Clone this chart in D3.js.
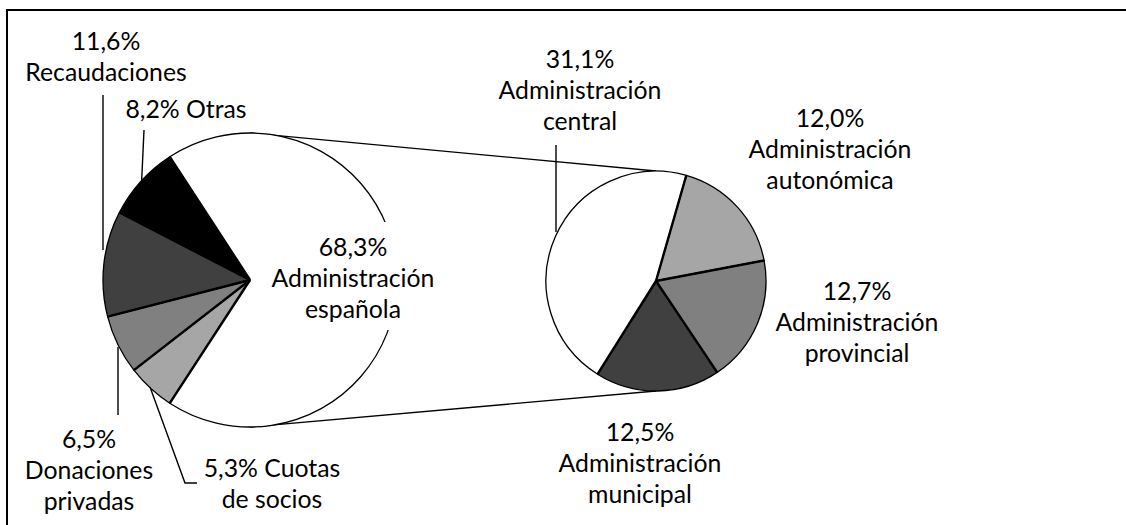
<!DOCTYPE html>
<html>
<head>
<meta charset="utf-8">
<script src="https://cdn.jsdelivr.net/npm/d3@7"></script>
<style>
  body { margin: 0; background: #fff; }
  text { font-family: Lato, "Open Sans", sans-serif; fill: #000; }
</style>
</head>
<body>
<svg id="chart" width="1126" height="525"></svg>
<script>
// main pie (funding sources), secondary pie splits "Administración española"
const mainNames = ["Cuotas de socios", "Donaciones privadas", "Recaudaciones", "Otras", "Administración española"];
const mainValues = [5.3, 6.5, 11.6, 8.2, 68.3];
const mainColors = ["#a6a6a6", "#808080", "#404040", "#000000", "#ffffff"];

const subNames = ["Administración autonómica", "Administración provincial", "Administración municipal", "Administración central"];
const subValues = [12.0, 12.7, 12.5, 31.1];
const subColors = ["#a6a6a6", "#808080", "#404040", "#ffffff"];

// label layout: block centre x, first baseline y, words per line (pct counts as a word)
const mainLabelLayout = [
  { x: 272, y: 477, breaks: [2, 2], leader: [[150, 387], [185, 483], [197, 483]] },
  { x: 89, y: 448, breaks: [1, 1, 1], leader: [[118, 347], [118, 415]] },
  { x: 106, y: 50, breaks: [1, 1], leader: [[103, 95], [103, 250]] },
  { x: 186, y: 118, breaks: [2], leader: [[144, 130], [141.7, 180]] },
  { x: 353, y: 256, breaks: [1, 1, 1], bg: [268, 222, 169, 108] }
];
const subLabelLayout = [
  { x: 830, y: 127, breaks: [1, 1, 1] },
  { x: 857, y: 300, breaks: [1, 1, 1] },
  { x: 640, y: 441, breaks: [1, 1, 1] },
  { x: 580, y: 68, breaks: [1, 1, 1], leader: [[556, 145], [556, 232]] }
];

const svg = d3.select("#chart");
const lineH = 31;

// pick a font size so label widths are close to the original
const probe = svg.append("text").style("font-size", "24px").text("Administración");
const fontSize = 24 * 163 / probe.node().getComputedTextLength();
probe.remove();

// frame (right and bottom edges run off the picture)
svg.append("rect")
  .attr("x", 7).attr("y", 10)
  .attr("width", 1140).attr("height", 540)
  .attr("fill", "none").attr("stroke", "#000").attr("stroke-width", 2);

const main = { cx: 250, cy: 280, r: 147 };
const sub = { cx: 656, cy: 281, r: 110 };

// connector lines between the two pies
const connectors = svg.append("g").attr("stroke", "#000").attr("stroke-width", 1.4);
connectors.append("line")
  .attr("x1", main.cx).attr("y1", main.cy - main.r)
  .attr("x2", sub.cx).attr("y2", sub.cy - sub.r);
connectors.append("line")
  .attr("x1", main.cx).attr("y1", main.cy + main.r)
  .attr("x2", sub.cx).attr("y2", sub.cy + sub.r);

const fmt = v => d3.format(".1f")(v).replace(".", ",");

function drawPie(geo, values, colors, start) {
  const pie = d3.pie().sort(null).value(d => d)
    .startAngle(start).endAngle(start + 2 * Math.PI);
  const arcs = pie(values);
  const arc = d3.arc().innerRadius(0).outerRadius(geo.r);

  const g = svg.append("g").attr("transform", `translate(${geo.cx},${geo.cy})`);
  g.selectAll("path.slice")
    .data(arcs)
    .join("path")
      .attr("class", "slice")
      .attr("d", arc)
      .attr("fill", (d, i) => colors[i])
      .attr("stroke", "#000")
      .attr("stroke-width", 1.3)
      .attr("stroke-linejoin", "round");

  // heavier radial edges like the original
  g.selectAll("line.edge")
    .data(arcs)
    .join("line")
      .attr("class", "edge")
      .attr("x1", 0).attr("y1", 0)
      .attr("x2", d => geo.r * Math.sin(d.startAngle))
      .attr("y2", d => -geo.r * Math.cos(d.startAngle))
      .attr("stroke", "#000")
      .attr("stroke-width", 2.4);
  return arcs;
}

const smallShare = d3.sum(mainValues.slice(0, 4)) / d3.sum(mainValues);
drawPie(main, mainValues, mainColors, 1.5 * Math.PI - smallShare * Math.PI);
drawPie(sub, subValues, subColors, 16 * Math.PI / 180);

function drawLabels(names, values, layout) {
  const g = svg.append("g");
  names.forEach((name, i) => {
    const lay = layout[i];
    const words = [fmt(values[i]) + "%"].concat(name.split(" "));
    const lines = [];
    let k = 0;
    lay.breaks.forEach(n => { lines.push(words.slice(k, k + n).join(" ")); k += n; });

    if (lay.bg) {
      g.append("rect")
        .attr("x", lay.bg[0]).attr("y", lay.bg[1])
        .attr("width", lay.bg[2]).attr("height", lay.bg[3])
        .attr("fill", "#fff");
    }
    if (lay.leader) {
      g.append("path")
        .attr("d", d3.line()(lay.leader))
        .attr("fill", "none")
        .attr("stroke", "#000")
        .attr("stroke-width", 1.4);
    }
    const t = g.append("text")
      .attr("text-anchor", "middle")
      .style("font-size", fontSize + "px");
    lines.forEach((ln, j) => {
      t.append("tspan")
        .attr("x", lay.x)
        .attr("y", lay.y + j * lineH)
        .text(ln);
    });
  });
}

drawLabels(mainNames, mainValues, mainLabelLayout);
drawLabels(subNames, subValues, subLabelLayout);
</script>
</body>
</html>
